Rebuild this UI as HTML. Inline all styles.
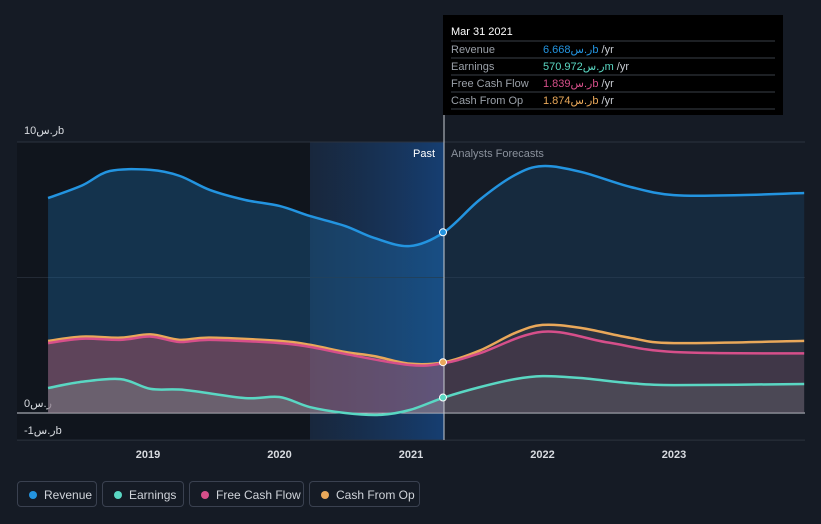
<!DOCTYPE html>
<html><head><meta charset="utf-8"><style>
body{margin:0;background:#151b25;font-family:"Liberation Sans","Noto Sans CJK SC",sans-serif;}
svg text{font-family:"Liberation Sans","DejaVu Sans",sans-serif;}
.lg{position:absolute;top:481px;height:26px;border:1px solid #3a4150;border-radius:4px;color:#d0d4da;font-size:12px;line-height:26px;box-sizing:border-box;padding-left:26px}
.lg i{position:absolute;left:11px;top:9px;width:8px;height:8px;border-radius:50%}
</style></head><body>
<div style="position:relative;width:821px;height:524px;overflow:hidden">
<svg id="c" width="821" height="524" style="position:absolute;left:0;top:0"></svg>
<div class="lg" style="left:17px;width:80px"><i style="background:#2394e0"></i>Revenue</div>
<div class="lg" style="left:102px;width:82px"><i style="background:#5ad7c3"></i>Earnings</div>
<div class="lg" style="left:189px;width:115px"><i style="background:#d64f8a"></i>Free Cash Flow</div>
<div class="lg" style="left:309px;width:111px"><i style="background:#e9a85a"></i>Cash From Op</div>
</div>
<script>
const revT=[2018.24,2018.5,2018.71,2019.02,2019.24,2019.47,2019.74,2020,2020.23,2020.5,2020.72,2020.99,2021.25,2021.52,2021.79,2022,2022.29,2022.67,2023,2023.5,2023.99];
const revV=[7.93,8.4,8.93,8.97,8.75,8.23,7.86,7.64,7.27,6.9,6.46,6.16,6.668,7.86,8.78,9.11,8.9,8.34,8.04,8.04,8.12];
const cfoT=[2018.24,2018.5,2018.79,2019.02,2019.24,2019.47,2020,2020.23,2020.5,2020.72,2020.99,2021.25,2021.52,2021.79,2022,2022.29,2022.67,2023,2023.99];
const cfoV=[2.66,2.82,2.78,2.9,2.7,2.78,2.66,2.52,2.25,2.1,1.82,1.874,2.3,2.95,3.25,3.14,2.77,2.58,2.66];
const fcfT=[2018.24,2018.5,2018.79,2019.02,2019.24,2019.47,2020,2020.23,2020.5,2020.99,2021.25,2021.52,2022,2022.5,2023,2023.99];
const fcfV=[2.58,2.74,2.7,2.82,2.62,2.7,2.58,2.44,2.18,1.77,1.839,2.2,3.0,2.6,2.25,2.2];
const earT=[2018.24,2018.48,2018.79,2019.02,2019.28,2019.74,2020,2020.23,2020.5,2020.76,2020.99,2021.25,2021.52,2021.79,2022,2022.29,2022.67,2023,2023.99];
const earV=[0.92,1.14,1.25,0.89,0.85,0.55,0.59,0.22,0,-0.07,0.11,0.571,0.95,1.25,1.36,1.29,1.1,1.03,1.07];
const yTicks=[10,0,-1];const yLabels=["10ر.سb","0ر.س","-1ر.سb"];
const xTicks=[2019,2020,2021,2022,2023];
const X=t=>148+(t-2019)*131.5, Y=v=>413-v*27.1;
const NS="http://www.w3.org/2000/svg",svg=document.getElementById('c');
function el(tag,a,p){const e=document.createElementNS(NS,tag);for(const k in a)e.setAttribute(k,a[k]);(p||svg).appendChild(e);return e;}
function path(T,V){const P=T.map((t,i)=>[X(t),Y(V[i])]);let d='M'+P[0][0]+','+P[0][1];
for(let i=0;i<P.length-1;i++){const p0=P[Math.max(0,i-1)],p1=P[i],p2=P[i+1],p3=P[Math.min(P.length-1,i+2)];
d+=' C'+(p1[0]+(p2[0]-p0[0])/6)+','+(p1[1]+(p2[1]-p0[1])/6)+' '+(p2[0]-(p3[0]-p1[0])/6)+','+(p2[1]-(p3[1]-p1[1])/6)+' '+p2[0]+','+p2[1];}return d;}
const defs=el('defs',{});
defs.innerHTML='<linearGradient id="hl" x1="0" x2="1"><stop offset="0" stop-color="#1a3354" stop-opacity="0.5"/><stop offset="1" stop-color="#16427a" stop-opacity="0.9"/></linearGradient><clipPath id="past"><rect x="0" y="0" width="444" height="524"/></clipPath><clipPath id="fut"><rect x="444" y="0" width="400" height="524"/></clipPath>';
let g=el('rect',{x:17,y:142,width:293,height:298,fill:'#10151d'});
g=el('rect',{x:310,y:142,width:134,height:298,fill:'url(#hl)'});
const off=[-8,-6,-6];
yTicks.forEach((v,i)=>{let l=el('line',{x1:17,x2:805,y1:Y(v),y2:Y(v),stroke:v==0?'#c8ccd2':'#2c333f','stroke-width':1});
let t=el('text',{x:24,y:Y(v)+off[i],fill:'#d8dbe0','font-size':11});t.textContent=yLabels[i];});
let mid=el('line',{x1:17,x2:805,y1:Y(5),y2:Y(5),stroke:'#232a35'});
const series=[[revT,revV,'#2394e0','rgba(30,110,170,0.35)','revenue'],[cfoT,cfoV,'#e9a85a','rgba(200,120,90,0.22)','cash-from-op'],[fcfT,fcfV,'#d64f8a','rgba(200,80,120,0.25)','free-cash-flow'],[earT,earV,'#5ad7c3','rgba(140,170,160,0.28)','earnings']];
series.forEach(s=>{const d=path(s[0],s[1]);const x0=X(s[0][0]),x1=X(s[0][s[0].length-1]);
['past','fut'].forEach(c=>{let a=el('path',{d:d+' L'+x1+','+Y(0)+' L'+x0+','+Y(0)+'Z',fill:s[3],'clip-path':'url(#'+c+')',opacity:c=='fut'?0.55:1});});
let l=el('path',{d:d,fill:'none',stroke:s[2],'stroke-width':2.5});});
xTicks.forEach(t=>{let x=el('text',{x:X(t),y:458,fill:'#d8dbe0','font-size':11,'font-weight':'bold','text-anchor':'middle'});x.textContent=t;});
let vl=el('line',{x1:444,x2:444,y1:15,y2:440,stroke:'#c8ccd2','stroke-width':1});
let pt=el('text',{x:435,y:157,fill:'#fff','font-size':11,'text-anchor':'end'});pt.textContent='Past';
let ft=el('text',{x:451,y:157,fill:'#8a919c','font-size':11});ft.textContent='Analysts Forecasts';
[[revV[12],'#2394e0'],[cfoV[11],'#e9a85a'],[earV[11],'#5ad7c3']].forEach(p=>{let c=el('circle',{cx:443,cy:Y(p[0]),r:3.5,fill:p[1],stroke:'#fff','stroke-width':1});});
const tip=el('g',{});
el('rect',{x:443,y:15,width:340,height:100,fill:'#000'},tip);
let tt=el('text',{x:451,y:35,fill:'#fff','font-size':11},tip);tt.textContent='Mar 31 2021';
const rows=[['Revenue','6.668ر.سb','#2394e0'],['Earnings','570.972ر.سm','#5ad7c3'],['Free Cash Flow','1.839ر.سb','#d64f8a'],['Cash From Op','1.874ر.سb','#e9a85a']];
rows.forEach((r,i)=>{const y=41+i*17;el('line',{x1:451,x2:775,y1:y,y2:y,stroke:'#3a3f47'},tip);
let a=el('text',{x:451,y:y+12,fill:'#9aa0a8','font-size':11},tip);a.textContent=r[0];
let b=el('text',{x:543,y:y+12,fill:r[2],'font-size':11},tip);b.textContent=r[1];
let c=el('tspan',{fill:'#c8ccd2'},b);c.textContent=' /yr';});
el('line',{x1:451,x2:775,y1:109,y2:109,stroke:'#3a3f47'},tip);
</script>
</body></html>
